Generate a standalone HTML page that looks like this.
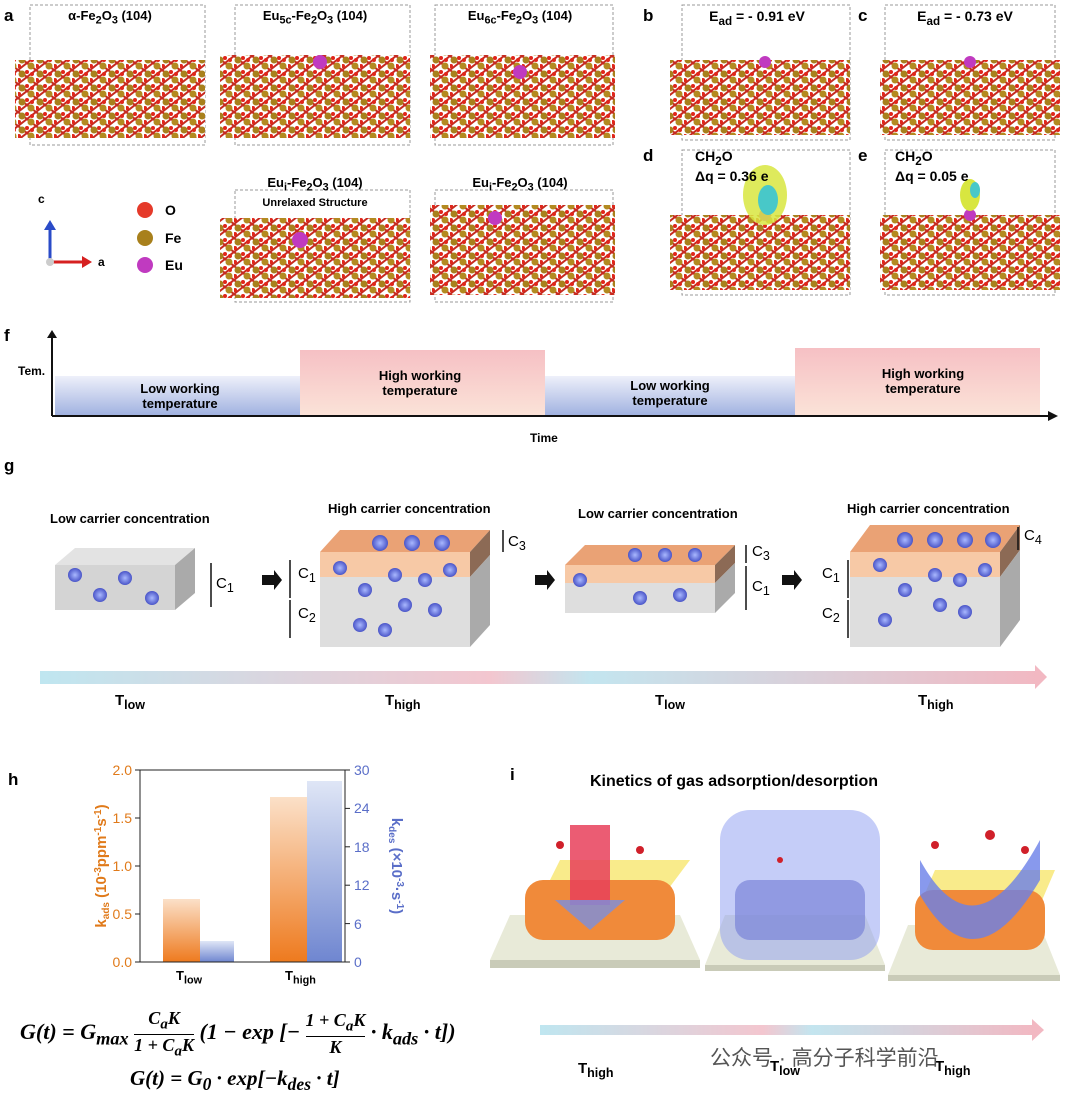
<!DOCTYPE html>
<html><head><meta charset="utf-8">
<style>
body{margin:0;width:1080px;height:1104px;background:#fff;font-family:"Liberation Sans","Noto Sans CJK SC",sans-serif;position:relative;overflow:hidden}
.a{position:absolute}
.lbl{position:absolute;font-weight:bold;font-size:17px}
.t{position:absolute;font-weight:bold;font-size:12px;text-align:center}
</style></head><body>
<svg class="a" style="left:0;top:0" width="1080" height="1104">
<defs>
<pattern id="cr" width="18" height="14" patternUnits="userSpaceOnUse">
<rect width="18" height="14" fill="#fff"/>
<line x1="0" y1="0" x2="18" y2="14" stroke="#c62a1f" stroke-width="2"/>
<line x1="18" y1="0" x2="0" y2="14" stroke="#c62a1f" stroke-width="2"/>
<circle cx="4" cy="4" r="3.5" fill="#a8801c"/><circle cx="13" cy="10" r="3.5" fill="#b38a20"/>
<circle cx="9" cy="2" r="2" fill="#e0251a"/><circle cx="1" cy="10" r="2" fill="#e0251a"/><circle cx="14" cy="4" r="2" fill="#e0251a"/>
</pattern>
<linearGradient id="bl" x1="0" y1="0" x2="0" y2="1"><stop offset="0" stop-color="#eef0fa"/><stop offset="1" stop-color="#9fb1e0"/></linearGradient>
<linearGradient id="pk" x1="0" y1="0" x2="0" y2="1"><stop offset="0" stop-color="#f6c0c4"/><stop offset="1" stop-color="#fbe3d8"/></linearGradient>
<linearGradient id="arr" x1="0" x2="1"><stop offset="0" stop-color="#bfe6f0"/><stop offset=".45" stop-color="#f3c6cf"/><stop offset=".55" stop-color="#c3e5ef"/><stop offset="1" stop-color="#f2b8c2"/></linearGradient>
<linearGradient id="ob" x1="0" y1="0" x2="0" y2="1"><stop offset="0" stop-color="#fbe0c8"/><stop offset="1" stop-color="#ee7a1e"/></linearGradient>
<linearGradient id="bb" x1="0" y1="0" x2="0" y2="1"><stop offset="0" stop-color="#dfe6f6"/><stop offset="1" stop-color="#6f86d0"/></linearGradient>
<radialGradient id="sp"><stop offset="0" stop-color="#a9b8ff"/><stop offset="1" stop-color="#4a55c8"/></radialGradient>
</defs>
<g stroke="#999" stroke-dasharray="3,2" fill="none">
<rect x="30" y="5" width="175" height="140"/><rect x="235" y="5" width="175" height="140"/><rect x="435" y="5" width="178" height="140"/>
<rect x="235" y="190" width="175" height="112"/><rect x="435" y="190" width="178" height="112"/>
<rect x="682" y="5" width="168" height="135"/><rect x="885" y="5" width="170" height="135"/>
<rect x="682" y="150" width="168" height="145"/><rect x="885" y="150" width="170" height="145"/>
</g>
<rect x="15" y="60" width="190" height="78" fill="url(#cr)"/>
<rect x="220" y="55" width="190" height="83" fill="url(#cr)"/>
<rect x="430" y="55" width="185" height="83" fill="url(#cr)"/>
<rect x="220" y="218" width="190" height="80" fill="url(#cr)"/>
<rect x="430" y="205" width="185" height="90" fill="url(#cr)"/>
<rect x="670" y="60" width="180" height="75" fill="url(#cr)"/>
<rect x="880" y="60" width="180" height="75" fill="url(#cr)"/>
<rect x="670" y="215" width="180" height="75" fill="url(#cr)"/>
<rect x="880" y="215" width="180" height="75" fill="url(#cr)"/>
<circle cx="320" cy="62" r="7" fill="#c03ac0"/><circle cx="520" cy="72" r="7" fill="#c03ac0"/>
<circle cx="300" cy="240" r="8" fill="#c03ac0"/><circle cx="495" cy="218" r="7" fill="#c03ac0"/>
<circle cx="765" cy="62" r="6" fill="#c03ac0"/><circle cx="970" cy="62" r="6" fill="#c03ac0"/>
<circle cx="765" cy="215" r="6" fill="#c03ac0"/><circle cx="970" cy="215" r="6" fill="#c03ac0"/>
<ellipse cx="765" cy="195" rx="22" ry="30" fill="#d8e640" opacity=".85"/><ellipse cx="768" cy="200" rx="10" ry="15" fill="#48c8c8"/>
<ellipse cx="970" cy="195" rx="10" ry="16" fill="#d8e640"/><ellipse cx="975" cy="190" rx="5" ry="8" fill="#48c8c8"/>
<line x1="50" y1="262" x2="50" y2="228" stroke="#2a4bc8" stroke-width="3"/><polygon points="44,230 56,230 50,220" fill="#2a4bc8"/>
<line x1="50" y1="262" x2="84" y2="262" stroke="#d62020" stroke-width="3"/><polygon points="82,256 82,268 92,262" fill="#d62020"/>
<circle cx="50" cy="262" r="4" fill="#ccc"/>
<circle cx="145" cy="210" r="8" fill="#e53a2a"/><circle cx="145" cy="238" r="8" fill="#a8801c"/><circle cx="145" cy="265" r="8" fill="#c03ac0"/>
<rect x="55" y="376" width="245" height="40" fill="url(#bl)"/>
<rect x="300" y="350" width="245" height="66" fill="url(#pk)"/>
<rect x="545" y="376" width="250" height="40" fill="url(#bl)"/>
<rect x="795" y="348" width="245" height="68" fill="url(#pk)"/>
<line x1="52" y1="335" x2="52" y2="416" stroke="#111" stroke-width="2"/>
<line x1="52" y1="416" x2="1050" y2="416" stroke="#111" stroke-width="2"/>
<polygon points="1048,411 1058,416 1048,421" fill="#111"/><polygon points="47,338 57,338 52,330" fill="#111"/>
<g>
<polygon points="55,565 175,565 195,548 75,548" fill="#e3e3e3"/><rect x="55" y="565" width="120" height="45" fill="#d4d4d4"/><polygon points="175,565 195,548 195,593 175,610" fill="#aaa"/>
<polygon points="320,552 470,552 490,530 340,530" fill="#eaa275"/><rect x="320" y="552" width="150" height="25" fill="#f7c9a6"/><polygon points="470,552 490,530 490,555 470,577" fill="#8c6a55"/>
<rect x="320" y="577" width="150" height="70" fill="#dedede"/><polygon points="470,577 490,555 490,625 470,647" fill="#aaa"/>
<polygon points="565,565 715,565 735,545 585,545" fill="#eaa275"/><rect x="565" y="565" width="150" height="18" fill="#f7c9a6"/><polygon points="715,565 735,545 735,563 715,583" fill="#8c6a55"/>
<rect x="565" y="583" width="150" height="30" fill="#dedede"/><polygon points="715,583 735,563 735,593 715,613" fill="#aaa"/>
<polygon points="850,552 1000,552 1020,525 870,525" fill="#eaa275"/><rect x="850" y="552" width="150" height="25" fill="#f7c9a6"/><polygon points="1000,552 1020,525 1020,550 1000,577" fill="#8c6a55"/>
<rect x="850" y="577" width="150" height="70" fill="#dedede"/><polygon points="1000,577 1020,550 1020,620 1000,647" fill="#aaa"/>
<g fill="url(#sp)">
<circle cx="75" cy="575" r="7"/><circle cx="100" cy="595" r="7"/><circle cx="125" cy="578" r="7"/><circle cx="152" cy="598" r="7"/>
<circle cx="380" cy="543" r="8"/><circle cx="412" cy="543" r="8"/><circle cx="442" cy="543" r="8"/>
<circle cx="340" cy="568" r="7"/><circle cx="365" cy="590" r="7"/><circle cx="395" cy="575" r="7"/><circle cx="425" cy="580" r="7"/><circle cx="450" cy="570" r="7"/><circle cx="405" cy="605" r="7"/><circle cx="435" cy="610" r="7"/><circle cx="360" cy="625" r="7"/><circle cx="385" cy="630" r="7"/>
<circle cx="635" cy="555" r="7"/><circle cx="665" cy="555" r="7"/><circle cx="695" cy="555" r="7"/><circle cx="580" cy="580" r="7"/><circle cx="640" cy="598" r="7"/><circle cx="680" cy="595" r="7"/>
<circle cx="905" cy="540" r="8"/><circle cx="935" cy="540" r="8"/><circle cx="965" cy="540" r="8"/><circle cx="993" cy="540" r="8"/>
<circle cx="880" cy="565" r="7"/><circle cx="905" cy="590" r="7"/><circle cx="935" cy="575" r="7"/><circle cx="960" cy="580" r="7"/><circle cx="985" cy="570" r="7"/><circle cx="940" cy="605" r="7"/><circle cx="965" cy="612" r="7"/><circle cx="885" cy="620" r="7"/>
</g>
<g stroke="#111" stroke-width="1.5">
<line x1="211" y1="563" x2="211" y2="607"/><line x1="290" y1="560" x2="290" y2="598"/><line x1="290" y1="600" x2="290" y2="638"/><line x1="503" y1="530" x2="503" y2="552"/>
<line x1="746" y1="545" x2="746" y2="563"/><line x1="746" y1="566" x2="746" y2="610"/><line x1="848" y1="560" x2="848" y2="598"/><line x1="848" y1="600" x2="848" y2="638"/><line x1="1018" y1="527" x2="1018" y2="550"/>
</g>
<g fill="#111"><polygon points="262,575 274,575 274,570 282,580 274,590 274,585 262,585"/><polygon points="535,575 547,575 547,570 555,580 547,590 547,585 535,585"/><polygon points="782,575 794,575 794,570 802,580 794,590 794,585 782,585"/></g>
</g>
<rect x="40" y="671" width="1000" height="13" fill="url(#arr)"/><polygon points="1035,665 1047,677 1035,689" fill="#f2b8c2"/>
<rect x="163" y="899" width="37" height="63" fill="url(#ob)"/>
<rect x="200" y="941" width="34" height="21" fill="url(#bb)"/>
<rect x="270" y="797" width="37" height="165" fill="url(#ob)"/>
<rect x="307" y="781" width="35" height="181" fill="url(#bb)"/>
<rect x="140" y="770" width="205" height="192" fill="none" stroke="#222"/>
<g stroke="#222"><line x1="140" y1="962" x2="135" y2="962"/><line x1="140" y1="914" x2="135" y2="914"/><line x1="140" y1="866" x2="135" y2="866"/><line x1="140" y1="818" x2="135" y2="818"/><line x1="140" y1="770" x2="135" y2="770"/>
<line x1="345" y1="962" x2="350" y2="962"/><line x1="345" y1="923.6" x2="350" y2="923.6"/><line x1="345" y1="885.2" x2="350" y2="885.2"/><line x1="345" y1="846.8" x2="350" y2="846.8"/><line x1="345" y1="808.4" x2="350" y2="808.4"/><line x1="345" y1="770" x2="350" y2="770"/></g>
<g font-size="14" font-family="Liberation Sans" fill="#e07a1a" text-anchor="end"><text x="132" y="967">0.0</text><text x="132" y="919">0.5</text><text x="132" y="871">1.0</text><text x="132" y="823">1.5</text><text x="132" y="775">2.0</text></g>
<g font-size="14" font-family="Liberation Sans" fill="#5a6ec8"><text x="354" y="967">0</text><text x="354" y="929">6</text><text x="354" y="890">12</text><text x="354" y="852">18</text><text x="354" y="813">24</text><text x="354" y="775">30</text></g>
<text transform="translate(106,866) rotate(-90)" text-anchor="middle" font-size="15" font-weight="bold" fill="#e07a1a" font-family="Liberation Sans">k<tspan font-size="10" dy="3">ads</tspan><tspan dy="-3"> (10</tspan><tspan font-size="10" dy="-5">-3</tspan><tspan dy="5">ppm</tspan><tspan font-size="10" dy="-5">-1</tspan><tspan dy="5">s</tspan><tspan font-size="10" dy="-5">-1</tspan><tspan dy="5">)</tspan></text>
<text transform="translate(392,866) rotate(90)" text-anchor="middle" font-size="15" font-weight="bold" fill="#5a6ec8" font-family="Liberation Sans">k<tspan font-size="10" dy="3">des</tspan><tspan dy="-3"> (×10</tspan><tspan font-size="10" dy="-5">-3</tspan><tspan dy="5">·s</tspan><tspan font-size="10" dy="-5">-1</tspan><tspan dy="5">)</tspan></text>
<g>
<polygon points="490,960 700,960 680,915 510,915" fill="#e8ead8"/><rect x="490" y="960" width="210" height="8" fill="#c9cbb8"/>
<polygon points="540,900 660,900 690,860 560,860" fill="#f6e35a" opacity=".7"/>
<rect x="525" y="880" width="150" height="60" rx="18" fill="#f08a3a"/>
<rect x="570" y="825" width="40" height="80" fill="#e8405a" opacity=".85"/><polygon points="555,900 625,900 590,930" fill="#7a8ee0" opacity=".8"/>
<polygon points="705,965 885,965 865,915 725,915" fill="#e8ead8"/><rect x="705" y="965" width="180" height="6" fill="#c9cbb8"/>
<rect x="720" y="810" width="160" height="150" rx="30" fill="#8c9cf2" opacity=".5"/><rect x="735" y="880" width="130" height="60" rx="15" fill="#7a85d8" opacity=".7"/>
<polygon points="888,975 1060,975 1040,925 908,925" fill="#e8ead8"/><rect x="888" y="975" width="172" height="6" fill="#c9cbb8"/>
<polygon points="920,905 1040,905 1055,870 935,870" fill="#f6e35a" opacity=".7"/>
<rect x="915" y="890" width="130" height="60" rx="18" fill="#f08a3a"/>
<path d="M920,860 Q975,960 1040,840 L1040,880 Q975,990 920,895 Z" fill="#6a80e8" opacity=".8"/>
<g fill="#d0202a"><circle cx="560" cy="845" r="4"/><circle cx="640" cy="850" r="4"/><circle cx="935" cy="845" r="4"/><circle cx="990" cy="835" r="5"/><circle cx="1025" cy="850" r="4"/><circle cx="780" cy="860" r="3"/></g>
</g>
<rect x="540" y="1025" width="495" height="10" fill="url(#arr)"/><polygon points="1032,1019 1044,1030 1032,1041" fill="#f2b8c2"/>
</svg>
<div class="lbl" style="left:4px;top:6px">a</div><div class="lbl" style="left:643px;top:6px">b</div><div class="lbl" style="left:858px;top:6px">c</div>
<div class="lbl" style="left:643px;top:146px">d</div><div class="lbl" style="left:858px;top:146px">e</div>
<div class="lbl" style="left:4px;top:326px">f</div><div class="lbl" style="left:4px;top:456px">g</div><div class="lbl" style="left:8px;top:770px">h</div><div class="lbl" style="left:510px;top:765px">i</div>
<div class="t" style="left:40px;top:8px;width:140px;font-size:13px">α-Fe<sub>2</sub>O<sub>3</sub> (104)</div>
<div class="t" style="left:235px;top:8px;width:160px;font-size:13px">Eu<sub>5c</sub>-Fe<sub>2</sub>O<sub>3</sub> (104)</div>
<div class="t" style="left:440px;top:8px;width:160px;font-size:13px">Eu<sub>6c</sub>-Fe<sub>2</sub>O<sub>3</sub> (104)</div>
<div class="t" style="left:235px;top:175px;width:160px;font-size:13px">Eu<sub>i</sub>-Fe<sub>2</sub>O<sub>3</sub> (104)<br><span style="font-size:11px">Unrelaxed Structure</span></div>
<div class="t" style="left:440px;top:175px;width:160px;font-size:13px">Eu<sub>i</sub>-Fe<sub>2</sub>O<sub>3</sub> (104)</div>
<div class="t" style="left:682px;top:8px;width:150px;font-size:14px">E<sub>ad</sub> = - 0.91 eV</div>
<div class="t" style="left:890px;top:8px;width:150px;font-size:14px">E<sub>ad</sub> = - 0.73 eV</div>
<div class="t" style="left:695px;top:148px;text-align:left;font-size:14px">CH<sub>2</sub>O<br>Δq = 0.36 e</div>
<div class="t" style="left:895px;top:148px;text-align:left;font-size:14px">CH<sub>2</sub>O<br>Δq = 0.05 e</div>
<div class="t" style="left:38px;top:192px;font-size:12px">c</div><div class="t" style="left:98px;top:255px;font-size:12px">a</div>
<div class="t" style="left:165px;top:202px;font-size:14px">O</div><div class="t" style="left:165px;top:230px;font-size:14px">Fe</div><div class="t" style="left:165px;top:257px;font-size:14px">Eu</div>
<div class="t" style="left:18px;top:364px;font-size:12px">Tem.</div>
<div class="t" style="left:100px;top:381px;width:160px;font-size:13px">Low working<br>temperature</div>
<div class="t" style="left:340px;top:368px;width:160px;font-size:13px">High working<br>temperature</div>
<div class="t" style="left:590px;top:378px;width:160px;font-size:13px">Low working<br>temperature</div>
<div class="t" style="left:843px;top:366px;width:160px;font-size:13px">High working<br>temperature</div>
<div class="t" style="left:530px;top:431px;font-size:12px">Time</div>
<div class="t" style="left:50px;top:511px;font-size:13px">Low carrier concentration</div>
<div class="t" style="left:328px;top:501px;font-size:13px">High carrier concentration</div>
<div class="t" style="left:578px;top:506px;font-size:13px">Low carrier concentration</div>
<div class="t" style="left:847px;top:501px;font-size:13px">High carrier concentration</div>
<div class="t" style="left:216px;top:575px;font-size:15px;font-weight:normal">C<sub>1</sub></div>
<div class="t" style="left:298px;top:565px;font-size:15px;font-weight:normal">C<sub>1</sub></div><div class="t" style="left:298px;top:605px;font-size:15px;font-weight:normal">C<sub>2</sub></div><div class="t" style="left:508px;top:533px;font-size:15px;font-weight:normal">C<sub>3</sub></div>
<div class="t" style="left:752px;top:543px;font-size:15px;font-weight:normal">C<sub>3</sub></div><div class="t" style="left:752px;top:578px;font-size:15px;font-weight:normal">C<sub>1</sub></div>
<div class="t" style="left:822px;top:565px;font-size:15px;font-weight:normal">C<sub>1</sub></div><div class="t" style="left:822px;top:605px;font-size:15px;font-weight:normal">C<sub>2</sub></div><div class="t" style="left:1024px;top:527px;font-size:15px;font-weight:normal">C<sub>4</sub></div>
<div class="t" style="left:115px;top:692px;font-size:15px">T<sub>low</sub></div><div class="t" style="left:385px;top:692px;font-size:15px">T<sub>high</sub></div>
<div class="t" style="left:655px;top:692px;font-size:15px">T<sub>low</sub></div><div class="t" style="left:918px;top:692px;font-size:15px">T<sub>high</sub></div>
<div class="t" style="left:176px;top:968px;font-size:13px">T<sub>low</sub></div><div class="t" style="left:285px;top:968px;font-size:13px">T<sub>high</sub></div>
<div class="a" style="left:20px;top:1008px;font-family:'Liberation Serif',serif;font-size:22px;font-weight:bold;font-style:italic;white-space:nowrap">G(t) = G<sub>max</sub> <span style="display:inline-block;vertical-align:middle;text-align:center;font-size:18px"><span style="display:block;border-bottom:1px solid #000">C<sub>a</sub>K</span>1 + C<sub>a</sub>K</span> (1 − exp [− <span style="display:inline-block;vertical-align:middle;text-align:center;font-size:18px"><span style="display:block;border-bottom:1px solid #000">1 + C<sub>a</sub>K</span>K</span> · k<sub>ads</sub> · t])</div>
<div class="a" style="left:130px;top:1066px;font-family:'Liberation Serif',serif;font-size:21px;font-weight:bold;font-style:italic">G(t) = G<sub>0</sub> · exp[−k<sub>des</sub> · t]</div>
<div class="t" style="left:590px;top:773px;font-size:16px">Kinetics of gas adsorption/desorption</div>
<div class="t" style="left:578px;top:1060px;font-size:15px">T<sub>high</sub></div><div class="t" style="left:770px;top:1058px;font-size:15px">T<sub>low</sub></div><div class="t" style="left:935px;top:1058px;font-size:15px">T<sub>high</sub></div>
<div class="a" style="left:710px;top:1042px;font-size:21px;color:#555">公众号 · 高分子科学前沿</div>
</body></html>
